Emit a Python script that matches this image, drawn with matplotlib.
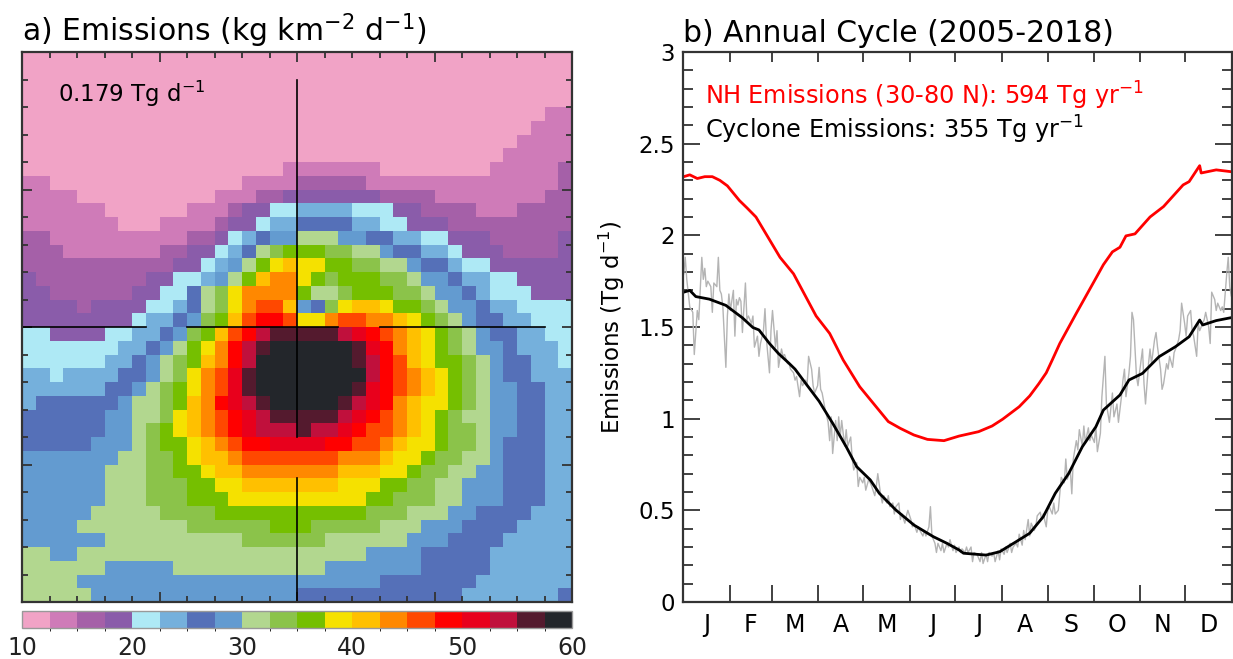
import matplotlib
matplotlib.use("Agg")
import matplotlib.pyplot as plt
import numpy as np
from matplotlib.colors import ListedColormap, BoundaryNorm
from matplotlib.ticker import MultipleLocator

# ---------------- panel a: cyclone-centred emission composite ----------------
# colour classes, 2.5 kg km-2 d-1 wide, from 10 to 60
level_edges = np.arange(10, 62.5, 2.5)
level_colors = ["#f1a3c6", "#cf7bb8", "#a560a8", "#8a5caa", "#aee9f5",
                "#75b0dc", "#5570b8", "#639bd0", "#b2d78f", "#8bc34a",
                "#75bf00", "#f5e100", "#ffc000", "#ff8800", "#ff4800",
                "#ff0000", "#e8001c", "#c0103c", "#541a2e", "#23262b"]
cbar_ticks = [10, 20, 30, 40, 50, 60]

# one character per grid cell = colour class (base 20: 0-9, a-j), top row first
emis_rows = [
    "00000000000000000000" "00000000000000000000",
    "00000000000000000000" "00000000000000000000",
    "00000000000000000000" "00000000000000000000",
    "00000000000000000000" "00000000000000000000",
    "00000000000000000000" "00000000000000000011",
    "00000000000000000000" "00000000000000000111",
    "00000000000000000000" "00000000000000001111",
    "00000000000000000000" "00000000000000011111",
    "00000000000000000001" "11111100000000111112",
    "11000000000000001111" "22222111111111111112",
    "11110000000000111223" "33333322221111111122",
    "11111100000011123344" "55554443322221112222",
    "11111110001111233455" "66665544333222222222",
    "22111111111122345677" "88877665544333222223",
    "2221111111223345689a" "aa998876655433322223",
    "22222222222334578abc" "bbaa9988766544333333",
    "3222222223344578acdd" "ba9aaa99877655443333",
    "332222223344689bdddd" "a889aaa9987765444333",
    "333323333445689bdeec" "769bccbaa98776554444",
    "33333333455679aceffe" "bbdeeddcba9876655444",
    "4433334455679acefhii" "iiihgfedcba987665544",
    "444444455678abdfhijj" "jjjjigfdcba987765554",
    "444444556789acdfhjjj" "jjjjihfecbaa98766554",
    "554555566789bdegijjj" "jjjjjhfedcba98766555",
    "55555566789abdegijjj" "jjjjigfedcba98776655",
    "56666667889acdfghijj" "jjjihgfdcbba98776655",
    "66666677889bcdefghii" "iiihgfedcba988776655",
    "6666667789abcdefghhh" "ihhgfeedcba998776655",
    "6666677789aabcdeffgg" "ggffeedcbba998766655",
    "77777778899abccdeeee" "eeedddcbba9988766655",
    "77777788899aabccdddd" "dddcccbba99887766655",
    "777777888999aabbcccc" "cccbbbaa998877766655",
    "777777888999aaabbbbb" "bbbbbaa9998877766655",
    "77777888889999aaaaaa" "aaaaa999888776666555",
    "777788888888999999aa" "a9999988877766665555",
    "77777788888888889999" "99888888777666655555",
    "88778888888888888888" "88888777766666555555",
    "88888877777888888888" "88777777766666555555",
    "88887777777777777777" "77777766666665555555",
    "88888777777777777777" "66666666666655555556",
]
total_text = "0.179 Tg d$^{-1}$"

# ---------------- panel b: annual cycle ----------------
months = ["J", "F", "M", "A", "M", "J", "J", "A", "S", "O", "N", "D"]
month_len = [31, 28, 31, 30, 31, 30, 31, 31, 30, 31, 30, 31]

nh_day = [1, 5, 10, 15, 20, 25, 30, 35, 38, 43, 49, 65, 74, 89, 98, 107, 118,
          127, 137, 145, 154, 163, 174, 184, 197, 206, 213, 224, 231, 237,
          242, 246, 251, 262, 275, 280, 286, 291, 295, 301, 311, 320, 333,
          337, 344, 345, 355, 365]
nh_val = [2.32, 2.33, 2.31, 2.32, 2.32, 2.30, 2.27, 2.22, 2.19, 2.15, 2.10,
          1.88, 1.79, 1.56, 1.465, 1.32, 1.174, 1.084, 0.984, 0.947, 0.911,
          0.887, 0.88, 0.905, 0.929, 0.96, 0.997, 1.065, 1.124, 1.19, 1.25,
          1.32, 1.41, 1.575, 1.766, 1.84, 1.91, 1.935, 1.997, 2.008, 2.10,
          2.157, 2.275, 2.293, 2.38, 2.34, 2.357, 2.347]

cyc_day = [1, 5, 9, 18, 29, 33, 40, 47, 51, 58, 64, 71, 75, 82, 91, 100, 109,
           116, 125, 131, 142, 154, 167, 176, 184, 187, 202, 211, 222, 231,
           240, 248, 257, 266, 275, 280, 291, 297, 306, 317, 328, 337, 344,
           346, 355, 365]
cyc_val = [1.69, 1.70, 1.666, 1.652, 1.618, 1.593, 1.55, 1.497, 1.484, 1.41,
           1.355, 1.302, 1.27, 1.193, 1.095, 0.975, 0.847, 0.738, 0.666,
           0.593, 0.502, 0.42, 0.356, 0.32, 0.284, 0.266, 0.256, 0.274,
           0.329, 0.375, 0.465, 0.593, 0.702, 0.847, 0.956, 1.047, 1.129,
           1.211, 1.247, 1.338, 1.393, 1.447, 1.538, 1.511, 1.535, 1.551]

daily_day = [1, 2, 3, 5, 7, 8, 10, 11, 13, 14, 15, 16, 17, 19, 20, 21, 23, 24,
             25, 26, 27, 29, 30, 31, 32, 34, 35, 36, 37, 38, 39, 40, 42, 43,
             44, 46, 47, 48, 50, 51, 52, 54, 55, 56, 57, 58, 59, 60, 62, 63,
             64, 66, 67, 68, 70, 71, 72, 74, 75, 76, 78, 79, 80, 82, 83, 84,
             86, 87, 88, 90, 91, 92, 93, 95, 97, 98, 99, 100, 102, 103, 104,
             105, 106, 108, 109, 110, 112, 113, 114, 116, 117, 118, 120, 121,
             122, 124, 125, 126, 128, 129, 130, 132, 133, 134, 136, 137, 138,
             140, 141, 142, 144, 145, 146, 148, 149, 150, 152, 153, 154, 156,
             157, 158, 160, 161, 162, 164, 165, 166, 168, 169, 170, 172, 173,
             174, 176, 177, 178, 180, 181, 182, 184, 185, 186, 188, 189, 190,
             192, 193, 194, 196, 198, 199, 200, 202, 203, 204, 206, 207, 208,
             210, 211, 212, 214, 215, 216, 218, 219, 220, 222, 223, 224, 226,
             227, 228, 230, 231, 232, 234, 235, 236, 238, 239, 240, 242, 243,
             244, 246, 247, 248, 250, 251, 252, 254, 255, 256, 258, 259, 260,
             262, 263, 264, 266, 267, 268, 270, 271, 272, 274, 275, 276, 278,
             279, 281, 282, 284, 286, 287, 289, 290, 292, 293, 294, 295, 297,
             298, 299, 300, 302, 303, 304, 306, 307, 308, 310, 311, 312, 314,
             315, 316, 318, 319, 320, 322, 323, 324, 326, 327, 328, 330, 331,
             332, 334, 335, 336, 338, 339, 340, 342, 343, 344, 346, 347, 348,
             350, 351, 352, 354, 355, 356, 358, 359, 360, 362, 363, 364, 365]
daily_val = [1.79, 1.88, 1.76, 1.61, 1.58, 1.35, 1.59, 1.54, 1.88, 1.76, 1.82,
             1.72, 1.75, 1.72, 1.58, 1.74, 1.72, 1.88, 1.70, 1.68, 1.61, 1.28,
             1.56, 1.68, 1.59, 1.70, 1.45, 1.65, 1.62, 1.66, 1.64, 1.47, 1.74,
             1.54, 1.56, 1.52, 1.56, 1.39, 1.45, 1.34, 1.41, 1.48, 1.60, 1.43,
             1.34, 1.25, 1.48, 1.59, 1.39, 1.48, 1.28, 1.38, 1.34, 1.35, 1.30,
             1.30, 1.27, 1.25, 1.21, 1.23, 1.12, 1.21, 1.18, 1.21, 1.18, 1.34,
             1.27, 1.18, 1.14, 1.18, 1.28, 1.16, 1.14, 1.05, 0.98, 0.88, 1.01,
             0.81, 0.99, 0.88, 1.01, 0.90, 0.99, 0.85, 0.94, 0.85, 0.90, 0.78,
             0.72, 0.76, 0.63, 0.68, 0.65, 0.68, 0.61, 0.67, 0.65, 0.63, 0.58,
             0.63, 0.70, 0.58, 0.54, 0.58, 0.54, 0.58, 0.52, 0.54, 0.48, 0.52,
             0.54, 0.45, 0.48, 0.43, 0.47, 0.50, 0.45, 0.41, 0.43, 0.38, 0.41,
             0.39, 0.36, 0.39, 0.36, 0.41, 0.52, 0.36, 0.32, 0.27, 0.32, 0.28,
             0.32, 0.27, 0.32, 0.30, 0.34, 0.28, 0.31, 0.27, 0.30, 0.27, 0.29,
             0.27, 0.30, 0.27, 0.30, 0.22, 0.27, 0.26, 0.22, 0.27, 0.21, 0.26,
             0.22, 0.27, 0.25, 0.27, 0.22, 0.28, 0.23, 0.29, 0.26, 0.30, 0.27,
             0.32, 0.27, 0.30, 0.32, 0.30, 0.37, 0.31, 0.39, 0.34, 0.45, 0.36,
             0.43, 0.39, 0.41, 0.47, 0.49, 0.45, 0.48, 0.41, 0.50, 0.52, 0.48,
             0.54, 0.48, 0.50, 0.59, 0.68, 0.65, 0.78, 0.67, 0.72, 0.59, 0.78,
             0.88, 0.83, 0.94, 0.85, 0.96, 0.87, 0.95, 0.88, 0.91, 0.87, 0.96,
             0.82, 0.92, 1.12, 1.34, 1.08, 0.98, 1.14, 1.01, 1.08, 0.98, 1.12,
             1.21, 1.27, 1.12, 1.25, 1.34, 1.58, 1.54, 1.23, 1.18, 1.25, 1.38,
             1.19, 1.08, 1.30, 1.38, 1.30, 1.43, 1.47, 1.39, 1.27, 1.16, 1.19,
             1.30, 1.27, 1.34, 1.28, 1.36, 1.38, 1.43, 1.48, 1.63, 1.52, 1.45,
             1.56, 1.59, 1.48, 1.45, 1.34, 1.52, 1.48, 1.52, 1.54, 1.58, 1.50,
             1.41, 1.69, 1.65, 1.59, 1.63, 1.59, 1.61, 1.58, 1.79, 1.88, 1.72,
             1.67]

ytick_vals = [0, 0.5, 1, 1.5, 2, 2.5, 3]
ytick_labels = ["0", "0.5", "1", "1.5", "2", "2.5", "3"]
nh_text = "NH Emissions (30-80 N): 594 Tg yr$^{-1}$"
cyc_text = "Cyclone Emissions: 355 Tg yr$^{-1}$"

W, H = 1233, 659
fig = plt.figure(figsize=(W / 100, H / 100), dpi=100)
frame = "#333333"


def px_axes(x0, y0, x1, y1):
    # axes from pixel corners (top-left origin)
    return fig.add_axes([x0 / W, 1 - y1 / H, (x1 - x0) / W, (y1 - y0) / H])


# ---- panel a
ax1 = px_axes(22, 52, 572, 602)
grid = np.array([[int(ch, 20) for ch in row] for row in emis_rows])
field = level_edges[grid] + 1.25
cmap = ListedColormap(level_colors)
norm = BoundaryNorm(level_edges, cmap.N)
n = grid.shape[0]
mesh = ax1.pcolormesh(np.arange(n + 1), np.arange(n + 1), field,
                      cmap=cmap, norm=norm)
ax1.set_xlim(0, n)
ax1.set_ylim(n, 0)

# cross-hair through the cyclone centre
for y0, y1 in [(2, 28), (31, 40)]:
    ax1.plot([20, 20], [y0, y1], color="black", lw=1.2)
for x0, x1 in [(0, 9), (12, 23), (26, 38)]:
    ax1.plot([x0, x1], [20, 20], color="black", lw=1.2)

ax1.set_xticks(range(0, n + 1, 10))
ax1.set_yticks(range(0, n + 1, 10))
ax1.set_xticks(range(0, n + 1, 2), minor=True)
ax1.set_yticks(range(0, n + 1, 2), minor=True)
ax1.tick_params(which="both", direction="in", top=True, right=True,
                labelbottom=False, labelleft=False, color=frame, width=1.3)
ax1.tick_params(which="major", length=7)
ax1.tick_params(which="minor", length=4)
for s in ax1.spines.values():
    s.set_color(frame)
    s.set_linewidth(1.6)

ax1.text(0, 1.02, "a) Emissions (kg km$^{-2}$ d$^{-1}$)", transform=ax1.transAxes,
         fontsize=21.5, ha="left", va="baseline")
ax1.text(0.065, 0.91, total_text, transform=ax1.transAxes, fontsize=16.5,
         ha="left", va="baseline")

cax = px_axes(22, 611, 572, 628)
cb = fig.colorbar(mesh, cax=cax, orientation="horizontal", ticks=cbar_ticks)
cb.outline.set_edgecolor("#999999")
cb.outline.set_linewidth(1)
cax.tick_params(length=0, labelsize=17, pad=6, colors="#222222")

# ---- panel b
ax2 = px_axes(683, 52, 1232, 602)
ax2.plot(daily_day, daily_val, color="#b4b4b4", lw=1)
ax2.plot(cyc_day, cyc_val, color="black", lw=2)
ax2.plot(nh_day, nh_val, color="red", lw=2)
ax2.set_xlim(0.5, 365.5)
ax2.set_ylim(0, 3)

bounds = np.cumsum([0] + month_len) + 0.5
centers = (bounds[:-1] + bounds[1:]) / 2
ax2.set_xticks(centers)
ax2.set_xticklabels(months, fontsize=17)
ax2.set_xticks(bounds[1:-1], minor=True)
ax2.tick_params(axis="x", which="major", length=0, pad=8)
ax2.tick_params(axis="x", which="minor", direction="in", length=12,
                width=1.3, color=frame, bottom=True, top=False)
top = ax2.secondary_xaxis("top")
top.set_xticks(bounds[1:-1])
top.tick_params(direction="in", length=7, width=1.3, color=frame,
                labeltop=False)
top.spines["top"].set_visible(False)

ax2.set_yticks(ytick_vals)
ax2.set_yticklabels(ytick_labels, fontsize=16.5)
ax2.yaxis.set_minor_locator(MultipleLocator(0.1))
ax2.tick_params(axis="y", which="both", direction="in", left=True,
                right=True, color=frame, width=1.3, pad=6)
ax2.tick_params(axis="y", which="major", length=12)
ax2.tick_params(axis="y", which="minor", length=7)
for s in ax2.spines.values():
    s.set_color(frame)
    s.set_linewidth(1.6)
ax2.set_ylabel("Emissions (Tg d$^{-1}$)", fontsize=16.5, labelpad=8)

ax2.text(0, 1.018, "b) Annual Cycle (2005-2018)", transform=ax2.transAxes,
         fontsize=21.5, ha="left", va="baseline")
ax2.text(0.04, 0.905, nh_text, transform=ax2.transAxes, fontsize=17.3,
         color="red", ha="left", va="baseline")
ax2.text(0.04, 0.842, cyc_text, transform=ax2.transAxes, fontsize=17.3,
         color="black", ha="left", va="baseline")

fig.savefig("out.png", dpi=100)
